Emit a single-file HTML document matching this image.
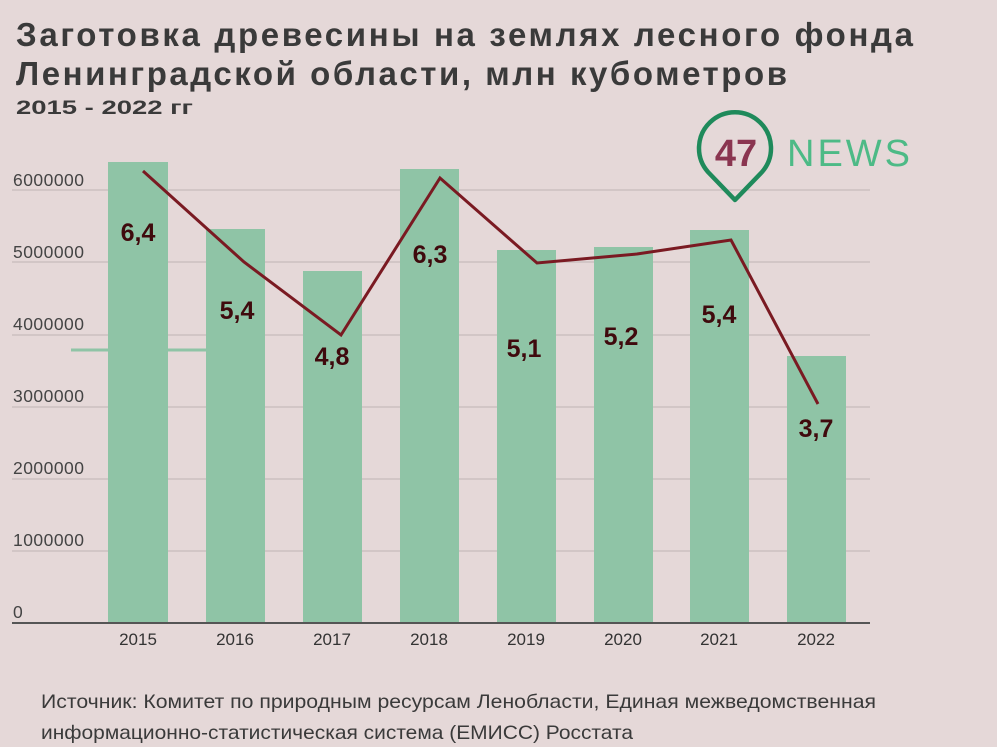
<!DOCTYPE html>
<html><head><meta charset="utf-8"><style>
html,body{margin:0;padding:0;background:#e5d8d8;}
svg{display:block}
</style></head><body>
<svg width="997" height="747" viewBox="0 0 997 747" xmlns="http://www.w3.org/2000/svg" font-family="Liberation Sans, sans-serif">
<rect width="997" height="747" fill="#e5d8d8"/>
<text x="16" y="46" font-size="33" font-weight="bold" fill="#3a3a3a" textLength="897" lengthAdjust="spacing">Заготовка древесины на землях лесного фонда</text>
<text x="16" y="85" font-size="33" font-weight="bold" fill="#3a3a3a" textLength="771" lengthAdjust="spacing">Ленинградской области, млн кубометров</text>
<text x="16" y="114" font-size="19" font-weight="bold" fill="#3a3a3a" textLength="177" lengthAdjust="spacingAndGlyphs">2015 - 2022 гг</text>
<g stroke="#c7bcbc" stroke-width="1.2">
<line x1="12" y1="190" x2="870" y2="190"/><line x1="12" y1="262" x2="870" y2="262"/>
<line x1="12" y1="335" x2="870" y2="335"/><line x1="12" y1="407" x2="870" y2="407"/>
<line x1="12" y1="479" x2="870" y2="479"/><line x1="12" y1="551" x2="870" y2="551"/>
</g>
<line x1="71" y1="350" x2="206" y2="350" stroke="#8fc4a6" stroke-width="3"/>
<g font-size="17.5" fill="#444">
<text x="13" y="186" textLength="71">6000000</text><text x="13" y="258" textLength="71">5000000</text><text x="13" y="330" textLength="71">4000000</text>
<text x="13" y="402" textLength="71">3000000</text><text x="13" y="474" textLength="71">2000000</text><text x="13" y="546" textLength="71">1000000</text><text x="13" y="618">0</text>
</g>
<g fill="#8fc4a6">
<rect x="108" y="162" width="60" height="461"/><rect x="206" y="229" width="59" height="394"/>
<rect x="303" y="271" width="59" height="352"/><rect x="400" y="169" width="59" height="454"/>
<rect x="497" y="250" width="59" height="373"/><rect x="594" y="247" width="59" height="376"/>
<rect x="690" y="230" width="59" height="393"/><rect x="787" y="356" width="59" height="267"/>
</g>
<line x1="12" y1="623" x2="870" y2="623" stroke="#555" stroke-width="2"/>
<g font-size="17" fill="#333" text-anchor="middle">
<text x="138" y="645">2015</text><text x="235" y="645">2016</text><text x="332" y="645">2017</text><text x="429" y="645">2018</text>
<text x="526" y="645">2019</text><text x="623" y="645">2020</text><text x="719" y="645">2021</text><text x="816" y="645">2022</text>
</g>
<polyline points="143,171 244,262 341,335 440,178 537,263 637,254 731,240 818,404" fill="none" stroke="#7a1a22" stroke-width="3"/>
<g font-size="25" font-weight="bold" fill="#3f0a0d" text-anchor="middle">
<text x="138" y="241">6,4</text><text x="237" y="319">5,4</text><text x="332" y="365">4,8</text><text x="430" y="263">6,3</text>
<text x="524" y="357">5,1</text><text x="621" y="345">5,2</text><text x="719" y="323">5,4</text><text x="816" y="437">3,7</text>
</g>
<path d="M735 200 L708 172 A36 36 0 1 1 762 172 Z" fill="none" stroke="#1f8a5b" stroke-width="4.5" stroke-linejoin="round"/>
<text x="736" y="166" font-size="38" font-weight="bold" fill="#8a3550" text-anchor="middle">47</text>
<text x="787" y="166" font-size="38" fill="#4dba86" textLength="123">NEWS</text>
<text x="41" y="708" font-size="19.5" fill="#3a3a3a" textLength="835" lengthAdjust="spacingAndGlyphs">Источник: Комитет по природным ресурсам Ленобласти, Единая межведомственная</text>
<text x="41" y="739" font-size="19.5" fill="#3a3a3a" textLength="592" lengthAdjust="spacingAndGlyphs">информационно-статистическая система (ЕМИСС) Росстата</text>
</svg>
</body></html>
